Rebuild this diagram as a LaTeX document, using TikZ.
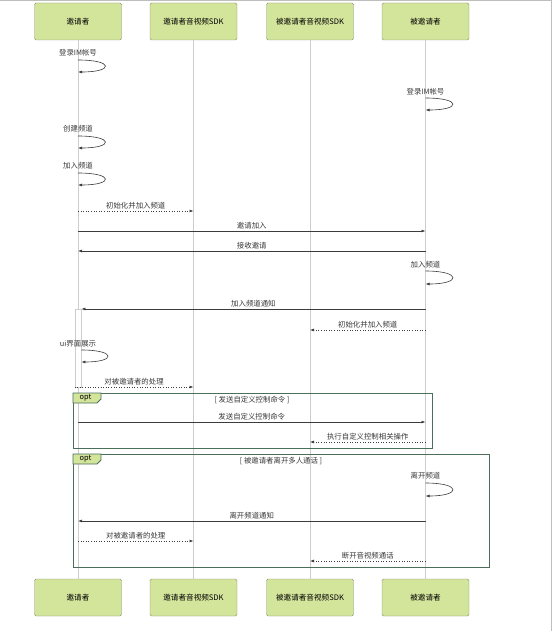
\documentclass[tikz,border=0pt]{standalone}
\usepackage{fontspec}
\setmainfont{Noto Sans CJK SC}
\usetikzlibrary{arrows.meta}

\begin{document}
\begin{tikzpicture}[x=1pt,y=-1pt,
	actor/.style={draw=boxline,fill=boxfill,rounded corners=1.5pt,minimum width=87pt,minimum height=37pt,font=\fontsize{7.6}{9}\selectfont},
	lifeline/.style={draw=lifegray,line width=0.8pt},
	activation/.style={draw=lifegray,fill=white,line width=0.7pt,minimum width=6pt,inner sep=0pt},
	msg/.style={draw=msggray,line width=0.6pt,-{Latex[length=4pt,width=3pt]}},
	reply/.style={msg,dotted},
	lbl/.style={text=labelgray,font=\fontsize{7.4}{8}\selectfont,inner sep=1pt},
	optframe/.style={draw=framegreen,line width=0.8pt}]
	\definecolor{boxfill}{RGB}{211,228,155}
	\definecolor{boxline}{RGB}{135,148,110}
	\definecolor{lifegray}{RGB}{205,205,205}
	\definecolor{msggray}{RGB}{60,60,60}
	\definecolor{labelgray}{RGB}{55,55,55}
	\definecolor{framegreen}{RGB}{75,110,90}
	\definecolor{pagegray}{RGB}{190,190,190}
	
	\useasboundingbox (0,0) rectangle (554,631);
	\draw[pagegray] (0,0.5) -- (551.5,0.5) -- (551.5,631);
	
	\node[actor] (inv) at (78,21.5) {邀请者};
	\node[actor] (invsdk) at (193.5,21.5) {邀请者音视频SDK};
	\node[actor] (eesdk) at (310,21.5) {被邀请者音视频SDK};
	\node[actor] (ee) at (425.5,21.5) {被邀请者};
	\node[actor] (invb) at (78,597.5) {邀请者};
	\node[actor] (invsdkb) at (193.5,597.5) {邀请者音视频SDK};
	\node[actor] (eesdkb) at (310,597.5) {被邀请者音视频SDK};
	\node[actor] (eeb) at (425.5,597.5) {被邀请者};
	
	\draw[lifeline] (inv) -- (invb);
	\draw[lifeline] (invsdk) -- (invsdkb);
	\draw[lifeline] (eesdk) -- (eesdkb);
	\draw[lifeline] (ee) -- (eeb);
	\node[activation,minimum height=78pt] (act) at (inv |- 0,348) {};
	
	\node[lbl] (login1) at (inv |- 0,53) {登录IM帐号};
	\draw[msg] (inv |- 0,60) .. controls +(36,0) and +(36,0) .. (inv |- 0,72);
	\node[lbl] (login2) at (ee |- 0,92) {登录IM帐号};
	\draw[msg] (ee |- 0,98) .. controls +(36,0) and +(36,0) .. (ee |- 0,110);
	\node[lbl] (create) at (inv |- 0,129) {创建频道};
	\draw[msg] (inv |- 0,136) .. controls +(36,0) and +(36,0) .. (inv |- 0,148);
	\node[lbl] (join1) at (inv |- 0,166) {加入频道};
	\draw[msg] (inv |- 0,173) .. controls +(36,0) and +(36,0) .. (inv |- 0,185);
	
	\draw[reply] (inv |- 0,211) -- node[lbl,above=1pt] (init1) {初始化并加入频道} (invsdk |- 0,211);
	\draw[msg] (inv |- 0,231) -- node[lbl,above=1pt] (invite) {邀请加入} (ee |- 0,231);
	\draw[msg] (ee |- 0,251) -- node[lbl,above=1pt] (accept) {接收邀请} (inv |- 0,251);
	\node[lbl] (join2) at (ee |- 0,265) {加入频道};
	\draw[msg] (ee |- 0,271) .. controls +(36,0) and +(36,0) .. (ee |- 0,284);
	\draw[msg] (ee |- 0,309) -- node[lbl,above=1pt] (notify) {加入频道通知} (act.east |- 0,309);
	\draw[reply] (ee |- 0,330) -- node[lbl,above=1pt] (init2) {初始化并加入频道} (eesdk |- 0,330);
	\node[lbl] (uishow) at (inv |- 0,344) {ui界面展示};
	\draw[msg] (act.east |- 0,350) .. controls +(35,0) and +(35,0) .. (act.east |- 0,362);
	\draw[reply] (act.west |- 0,387) -- node[lbl,above=1pt] (handle1) {对被邀请者的处理} (invsdk |- 0,387);
	
	\draw[optframe] (73,393) rectangle (432,448);
	\draw[optframe,fill=boxfill] (73,393) -- (101,393) -- (101,399) -- (97,403) -- (73,403) -- cycle;
	\node[lbl,text=black] (opt1) at (85.5,398) {opt};
	\node[lbl] (guard1) at (252,400) {[ 发送自定义控制命令 ]};
	\draw[msg] (inv |- 0,422) -- node[lbl,above=1pt] (cmd) {发送自定义控制命令} (ee |- 0,422);
	\draw[reply] (ee |- 0,442) -- node[lbl,above=1pt] (exec) {执行自定义控制相关操作} (eesdk |- 0,442);
	
	\draw[optframe] (73,454) rectangle (489,567);
	\draw[optframe,fill=boxfill] (73,454) -- (101,454) -- (101,460) -- (97,464) -- (73,464) -- cycle;
	\node[lbl,text=black] (opt2) at (85.5,459) {opt};
	\node[lbl] (guard2) at (281,461) {[ 被邀请者离开多人通话 ]};
	\node[lbl] (leave) at (ee |- 0,476) {离开频道};
	\draw[msg] (ee |- 0,483) .. controls +(36,0) and +(36,0) .. (ee |- 0,496);
	\draw[msg] (ee |- 0,521) -- node[lbl,above=1pt] (leftnote) {离开频道通知} (inv |- 0,521);
	\draw[reply] (inv |- 0,541) -- node[lbl,above=1pt] (handle2) {对被邀请者的处理} (invsdk |- 0,541);
	\draw[reply] (ee |- 0,561) -- node[lbl,above=1pt] (hangup) {断开音视频通话} (eesdk |- 0,561);
	
\end{tikzpicture}
\end{document}
